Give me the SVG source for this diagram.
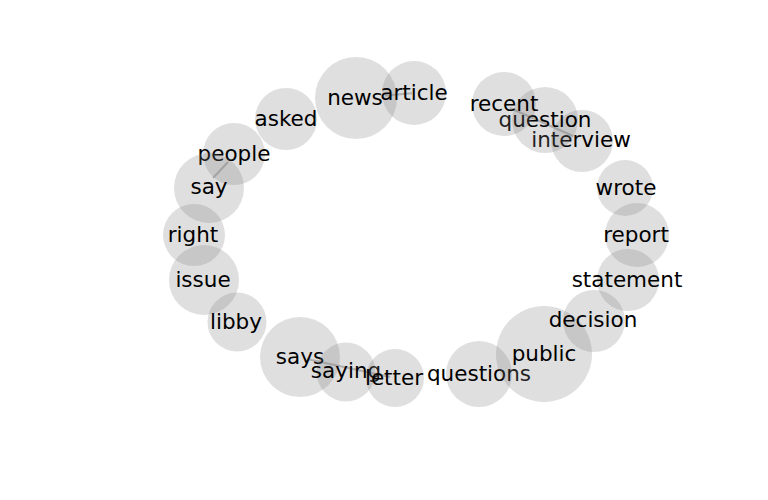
<svg xmlns="http://www.w3.org/2000/svg" width="768" height="500" viewBox="0 0 768 500">
<style>
.n circle{fill:#808080;fill-opacity:0.25;stroke:none}
.n text{font-family:"DejaVu Sans",sans-serif;font-size:21.5px;fill:#000;text-anchor:middle}
.e line{stroke:#808080;stroke-opacity:0.5;stroke-width:2;stroke-linecap:butt}
</style>
<rect width="768" height="500" fill="#fff"/>
<g id="edges" class="e">
<line x1="385" y1="95.5" x2="412" y2="93.2"/>
<line x1="228" y1="162" x2="213" y2="178"/>
<line x1="510" y1="108" x2="573" y2="136"/>
<line x1="307" y1="359" x2="390" y2="377"/>
</g>
<g id="news" class="n"><circle cx="356" cy="98" r="41"/><text x="355" y="105">news</text></g>
<g id="article" class="n"><circle cx="414" cy="93" r="32"/><text x="414" y="100">article</text></g>
<g id="asked" class="n"><circle cx="286" cy="119" r="31"/><text x="286" y="126">asked</text></g>
<g id="people" class="n"><circle cx="234" cy="154" r="31"/><text x="234" y="161">people</text></g>
<g id="say" class="n"><circle cx="209" cy="188" r="35"/><text x="209" y="194">say</text></g>
<g id="right" class="n"><circle cx="194" cy="235" r="31"/><text x="193" y="242">right</text></g>
<g id="issue" class="n"><circle cx="204" cy="280" r="35"/><text x="203" y="287">issue</text></g>
<g id="libby" class="n"><circle cx="237" cy="322" r="29.5"/><text x="236" y="329">libby</text></g>
<g id="says" class="n"><circle cx="300" cy="357" r="40"/><text x="300" y="364">says</text></g>
<g id="saying" class="n"><circle cx="346" cy="372" r="29.5"/><text x="346" y="378">saying</text></g>
<g id="letter" class="n"><circle cx="395" cy="378" r="29"/><text x="394" y="385">letter</text></g>
<g id="questions" class="n"><circle cx="479" cy="374" r="33"/><text x="479" y="381">questions</text></g>
<g id="public" class="n"><circle cx="544" cy="354" r="48"/><text x="544" y="361">public</text></g>
<g id="decision" class="n"><circle cx="594" cy="321" r="31"/><text x="593" y="327">decision</text></g>
<g id="statement" class="n"><circle cx="628" cy="280" r="31"/><text x="627" y="287">statement</text></g>
<g id="report" class="n"><circle cx="637" cy="235" r="32"/><text x="636" y="242">report</text></g>
<g id="wrote" class="n"><circle cx="625" cy="188" r="28"/><text x="626" y="195">wrote</text></g>
<g id="interview" class="n"><circle cx="582" cy="141" r="31"/><text x="581" y="147">interview</text></g>
<g id="question" class="n"><circle cx="545" cy="120" r="33"/><text x="545" y="127">question</text></g>
<g id="recent" class="n"><circle cx="504" cy="104" r="32"/><text x="504" y="111">recent</text></g>
</svg>
